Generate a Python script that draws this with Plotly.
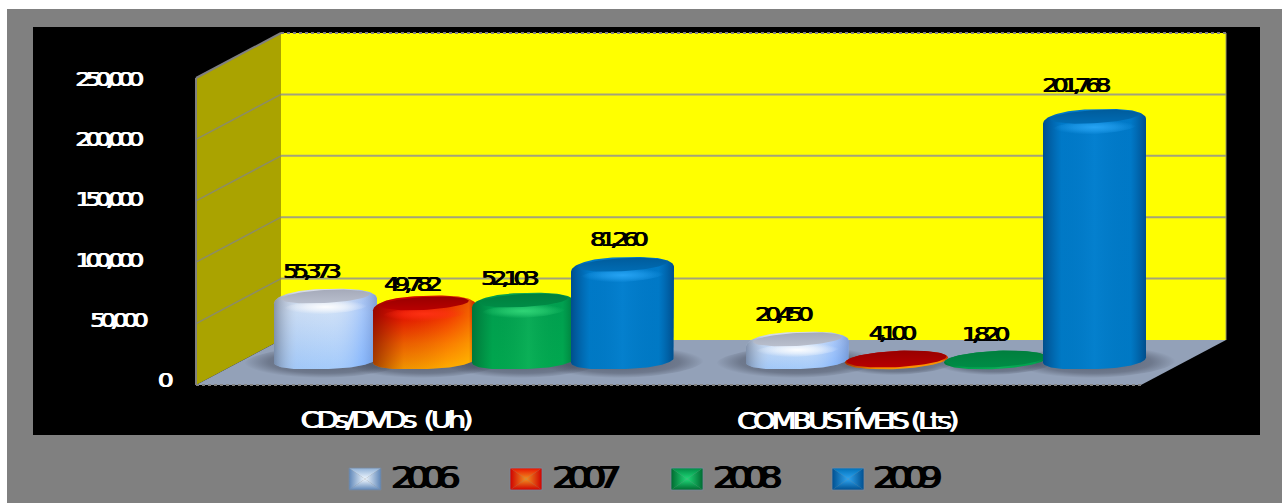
import numpy as np
import plotly.graph_objects as go

# ---------- data ----------
CATEGORIES = ["CDs/DVDs  (Uh)", "COMBUSTÍVEIS (Lts)"]
YEARS = ["2006", "2007", "2008", "2009"]
VALUES_2006 = [55373, 20450]
VALUES_2007 = [49782, 4100]
VALUES_2008 = [52103, 1820]
VALUES_2009 = [81260, 201768]
TICKS = [0, 50000, 100000, 150000, 200000, 250000]

SERIES = [VALUES_2006, VALUES_2007, VALUES_2008, VALUES_2009]

# ---------- layout constants (pixels of the 1282x503 page) ----------
W, H = 1282, 503
PX_PER_UNIT = 307 / 250000
X0_PX, GROUP_PX = 474, 472
Y0_PX = 366
SLOT_PX = 99
HALF_W_PX = 51.5
RY_PX = 9
TILT_PX = 2.5
BASE_PX = 360


def X(p):
    return (np.asarray(p, float) - X0_PX) / GROUP_PX


def Y(p):
    return (Y0_PX - np.asarray(p, float)) / PX_PER_UNIT


def val_px(v):
    return Y0_PX - v * PX_PER_UNIT


# vertical colorscales run from the bottom (0) to the top (1) of each shape
STYLE = [
    dict(vert=[[0, "#9cc6fa"], [0.7, "#c8dcf6"], [1, "#d5d9e4"]],
         side=[[0, "rgba(90,100,120,0.60)"], [0.22, "rgba(200,210,225,0.12)"], [0.55, "rgba(255,255,255,0.08)"],
               [0.85, "rgba(90,150,255,0.30)"], [1, "rgba(70,110,190,0.55)"]],
         cap=[[0, "#b9bfcd"], [1, "#a5aaba"]], glow="rgba(255,255,255,0.95)"),
    dict(vert=[[0, "#ffa800"], [0.35, "#f86a00"], [0.72, "#ee1800"], [1, "#d80000"]],
         side=[[0, "rgba(100,0,0,0.60)"], [0.3, "rgba(130,0,0,0.12)"], [0.72, "rgba(255,190,0,0.20)"],
               [0.93, "rgba(255,210,0,0.40)"], [1, "rgba(130,60,0,0.40)"]],
         cap=[[0, "#b80000"], [1, "#980000"]], glow="rgba(255,50,20,0.95)"),
    dict(vert=[[0, "#00aa50"], [1, "#00a050"]],
         side=[[0, "rgba(0,70,35,0.50)"], [0.2, "rgba(0,90,40,0.05)"], [0.55, "rgba(60,210,120,0.18)"],
               [0.88, "rgba(0,100,50,0.03)"], [1, "rgba(0,70,35,0.50)"]],
         cap=[[0, "#008c46"], [1, "#007f3e"]], glow="rgba(50,215,120,0.95)"),
    dict(vert=[[0, "#007cc8"], [1, "#007ccc"]],
         side=[[0, "rgba(0,40,90,0.55)"], [0.18, "rgba(0,60,120,0.05)"], [0.5, "rgba(30,150,230,0.15)"],
               [0.85, "rgba(0,60,120,0.05)"], [1, "rgba(0,40,90,0.55)"]],
         cap=[[0, "#006cb4"], [1, "#005c9c"]], glow="rgba(40,165,245,0.95)"),
]

fig = go.Figure()


def poly(xp, yp, color=None, grad=None, line=None):
    kw = dict(x=X(xp), y=Y(yp), mode="lines", fill="toself", hoverinfo="skip", showlegend=False,
              line=dict(width=0, color="rgba(0,0,0,0)"))
    if line:
        kw["line"] = line
    if grad:
        kw["fillgradient"] = grad
    else:
        kw["fillcolor"] = color
    fig.add_trace(go.Scatter(**kw))


def seg(xp, yp, color, width=2, dash="solid"):
    fig.add_trace(go.Scatter(x=X(xp), y=Y(yp), mode="lines", hoverinfo="skip", showlegend=False,
                             line=dict(color=color, width=width, dash=dash)))


def ellipse(cx, cy, rx, ry, tilt=TILT_PX, a0=0.0, a1=2 * np.pi, n=72, power=1.0):
    t = np.linspace(a0, a1, n)
    c = np.cos(t)
    return cx + rx * np.sign(c) * np.abs(c) ** power, cy + ry * np.sin(t) - tilt * c


# ---------- walls and floor ----------
BL, BR, FL, FR = 281, 1226, 196, 1141
BACK0, FRONT0 = 340, 385
TOP = BACK0 - 250000 * PX_PER_UNIT
poly([BL, BR, BR, BL, BL], [TOP, TOP, BACK0, BACK0, TOP], "#ffff00")
poly([FL, BL, BL, FL, FL], [TOP + 45, TOP, BACK0, FRONT0, TOP + 45], "#aaa300")
poly([FL, BL, BR, FR, FL], [FRONT0, BACK0, BACK0, FRONT0, FRONT0], "#93a1b8")
for t in TICKS[1:5]:
    yb = BACK0 - t * PX_PER_UNIT
    seg([BL, BR], [yb, yb], "#a3a37a", 2)
    seg([FL, BL], [yb + 45, yb], "#8c8c66", 1.5)
seg([FL, FL], [FRONT0, TOP + 45], "#808080", 2)
seg([FL, BL], [TOP + 45, TOP], "#808080", 2)
seg([BL, BR], [TOP, TOP], "#808080", 2, "dot")
seg([BR, BR], [TOP, BACK0], "#9a9a60", 1)
seg([FL, FR], [FRONT0, FRONT0], "#808080", 2, "dot")

# ---------- floor shadows ----------
for g in range(2):
    for s in range(4):
        cx = X0_PX + g * GROUP_PX + (s - 1.5) * SLOT_PX
        if SERIES[s][g] < 10000:
            ex, ey = ellipse(cx, BASE_PX + 3, HALF_W_PX + 8, RY_PX + 3)
        else:
            ex, ey = ellipse(cx, BASE_PX + 2, HALF_W_PX + 30, RY_PX + 7)
        poly(ex, ey, grad=dict(type="radial", colorscale=[[0, "rgba(50,55,70,0.6)"], [0.7, "rgba(50,55,70,0.38)"],
                                                          [1, "rgba(50,55,70,0)"]]))

# ---------- cylinders ----------
labels = []
LABEL_NUDGE_X = [[-16, -16], [-14, -6], [-16, -12], [-6, -20]]
LABEL_NUDGE_Y = [[-18, -18], [-12, -18], [-15, -17], [-18, -24]]
for g in range(2):
    for s in range(4):
        v = SERIES[s][g]
        st = STYLE[s]
        cx = X0_PX + g * GROUP_PX + (s - 1.5) * SLOT_PX
        r = HALF_W_PX
        top_c = min(val_px(v), BASE_PX)
        height = BASE_PX - top_c
        tall = height > 12
        # body outline with rounded shoulders when the cylinder has some height
        if tall:
            tx, ty = ellipse(cx, top_c + 3, r, RY_PX + 3, a0=np.pi, a1=2 * np.pi, power=0.75)
        else:
            tx, ty = ellipse(cx, top_c, r, RY_PX, a0=np.pi, a1=2 * np.pi)
        bx, by = ellipse(cx, BASE_PX, r, RY_PX, a0=0, a1=np.pi, power=0.75 if tall else 1.0)
        ox = np.concatenate([tx, bx, tx[:1]])
        oy = np.concatenate([ty, by, ty[:1]])
        poly(ox, oy, grad=dict(type="vertical", colorscale=st["vert"]))
        poly(ox, oy, grad=dict(type="horizontal", colorscale=st["side"]))
        if tall:
            gx, gy = ellipse(cx, top_c + 9, r * 0.82, 7)
            poly(gx, gy, grad=dict(type="radial", colorscale=[[0, st["glow"]],
                                                              [0.5, st["glow"].replace("0.95", "0.55")],
                                                              [1, st["glow"].replace("0.95", "0")]]))
        # cap
        ex, ey = ellipse(cx, top_c - 1.5 if tall else top_c - 1, r * (0.86 if tall else 0.97),
                         RY_PX * (0.72 if tall else 0.9))
        poly(ex, ey, grad=dict(type="vertical", colorscale=st["cap"]))
        labels.append((cx + LABEL_NUDGE_X[s][g], top_c - RY_PX + LABEL_NUDGE_Y[s][g], f"{v:,}"))

# ---------- legend swatches ----------
LEG_SW = [349, 510, 671, 832]
LEG_TX = [422, 583, 744, 904]
SW_COL = [("#5e86b8", "#f0f8ff", "#8fb0d6"), ("#d00000", "#f09020", "#e81000"),
          ("#006a30", "#20d878", "#008a44"), ("#004f8f", "#2ea4f0", "#0070b8")]
for x0, (edge, center, top) in zip(LEG_SW, SW_COL):
    x1, y0, y1 = x0 + 32, 468, 490
    xc, yc = (x0 + x1) / 2, (y0 + y1) / 2
    poly([x0, xc, x0, x0], [y0, yc, y1, y0], grad=dict(type="horizontal", colorscale=[[0, edge], [1, center]]))
    poly([x1, xc, x1, x1], [y0, yc, y1, y0], grad=dict(type="horizontal", colorscale=[[0, center], [1, edge]]))
    poly([x0, x1, xc, x0], [y0, y0, yc, y0], grad=dict(type="vertical", colorscale=[[0, center], [1, top]]))
    poly([x0, x1, xc, x0], [y1, y1, yc, y1], grad=dict(type="vertical", colorscale=[[0, edge], [1, center]]))
    seg([x0, x1, x1, x0, x0], [y0, y0, y1, y1, y0], "rgba(120,135,155,0.8)", 1)

# ---------- text ----------
FONT = "DejaVu Sans"
ann = []


def text(xp, yp, s, size, color, halo_px=0.55):
    ann.append(dict(x=float(X(xp)), y=float(Y(yp)), xref="x", yref="y", text=s, showarrow=False,
                    xanchor="center", yanchor="middle",
                    font=dict(family=FONT, size=size, color=color,
                              shadow=f"{halo_px}px 0 0 {color}, -{halo_px}px 0 0 {color}")))


for lx, ly, s in labels:
    text(lx, ly, s, 20, "#000000")
for t in TICKS[1:]:
    text(117 if t == 50000 else 107.5, 380 - t * 60.2 / 50000, f"{t:,}", 20, "#ffffff")
text(163, 380, "0", 20, "#ffffff")
CAT_PX = [385, 846]
for c, s in zip(CAT_PX, CATEGORIES):
    text(c, 420, s.replace("  ", "\u00a0\u00a0"), 23, "#ffffff")
for c, s in zip(LEG_TX, YEARS):
    text(c, 477, s, 30, "#000000", 0.9)

fig.update_layout(
    width=W, height=H, autosize=False, margin=dict(l=0, r=0, t=0, b=0, pad=0),
    paper_bgcolor="#ffffff", plot_bgcolor="rgba(0,0,0,0)", showlegend=False, annotations=ann,
    xaxis=dict(range=[float(X(0)), float(X(W))], visible=False, fixedrange=True),
    yaxis=dict(range=[float(Y(H)), float(Y(0))], visible=False, fixedrange=True),
    shapes=[
        dict(type="rect", xref="paper", yref="paper", x0=7 / W, x1=1, y0=0, y1=1 - 9 / H,
             fillcolor="#808080", line_width=0, layer="below"),
        dict(type="rect", xref="paper", yref="paper", x0=33 / W, x1=1260 / W, y0=1 - 435 / H, y1=1 - 27 / H,
             fillcolor="#000000", line_width=0, layer="below"),
    ],
)

post = """
document.body.style.margin='0';
document.documentElement.style.overflow='hidden';
var st=document.createElement('style');
st.textContent='.annotation-text{letter-spacing:-0.23em;transform-box:fill-box;transform-origin:center;transform:scaleX(1.25);}'
 + '.annotation-text[data-unformatted^="C"]{letter-spacing:-0.14em;}';
document.head.appendChild(st);
"""
fig.write_html("out.html", post_script=post, config=dict(displayModeBar=False))
